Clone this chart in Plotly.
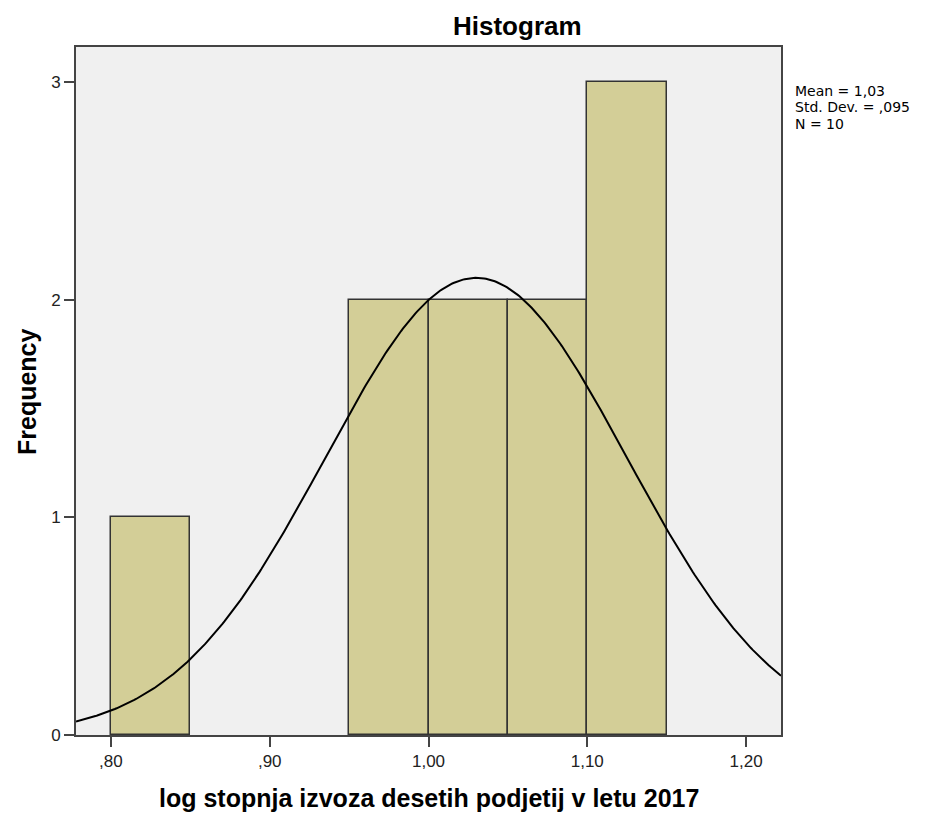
import numpy as np
import plotly.graph_objects as go

# ---- data ----
bin_starts = [0.80, 0.95, 1.00, 1.05, 1.10]
bin_counts = [1, 2, 2, 2, 3]
bin_width = 0.05
stat_mean = 1.03
stat_sd = 0.095
stat_n = 10
x_tickvals = [0.80, 0.90, 1.00, 1.10, 1.20]
x_ticktext = [",80", ",90", "1,00", "1,10", "1,20"]
y_tickvals = [0, 1, 2, 3]
stats_lines = ["Mean = 1,03", "Std. Dev. = ,095", "N = 10"]

W, H = 927, 814
L, R, T, B = 76, 146, 47, 79
PW, PH = W - L - R, H - T - B
xr = [0.778, 1.222]
yr = [0, 3.16]
FONT = "Liberation Sans, Arial, sans-serif"

def py(ypx):
    return 1 - (ypx - T) / PH

def px(xpx):
    return (xpx - L) / PW

fig = go.Figure()
fig.add_trace(go.Bar(
    x=[s + bin_width / 2 for s in bin_starts], y=bin_counts, width=bin_width,
    marker=dict(color="#D3CE97", line=dict(color="#333333", width=1.5)),
    hoverinfo="skip", showlegend=False))

xs = np.linspace(xr[0], xr[1], 400)
ys = stat_n * bin_width / (stat_sd * np.sqrt(2 * np.pi)) * np.exp(-0.5 * ((xs - stat_mean) / stat_sd) ** 2)
fig.add_trace(go.Scatter(x=xs, y=ys, mode="lines", line=dict(color="black", width=2),
                         hoverinfo="skip", showlegend=False))

annotations = [
    dict(text="<b>Histogram</b>", xref="paper", yref="paper", x=px(517), y=py(25.5),
         xanchor="center", yanchor="middle", showarrow=False, font=dict(size=26, color="black", family=FONT)),
    dict(text="<b>log stopnja izvoza desetih podjetij v letu 2017</b>", xref="paper", yref="paper",
         x=px(429), y=py(798), xanchor="center", yanchor="middle", showarrow=False,
         font=dict(size=25, color="black", family=FONT)),
    dict(text="<b>Frequency</b>", xref="paper", yref="paper", x=px(27), y=py(392), textangle=-90,
         xanchor="center", yanchor="middle", showarrow=False, font=dict(size=25, color="black", family=FONT)),
]
for i, s in enumerate(stats_lines):
    annotations.append(dict(text=s, xref="paper", yref="paper", x=px(793), y=py(90.5 + 16.5 * i),
                            xanchor="left", yanchor="middle", showarrow=False,
                            font=dict(size=14, color="black", family="DejaVu Sans, sans-serif")))

fig.update_layout(
    width=W, height=H, margin=dict(l=L, r=R, t=T, b=B, pad=0),
    paper_bgcolor="white", plot_bgcolor="#F0F0F0",
    bargap=0, annotations=annotations,
    font=dict(family=FONT, color="black"),
    xaxis=dict(range=xr, tickvals=x_tickvals, ticktext=x_ticktext, ticks="outside", ticklen=10,
               tickwidth=2, tickcolor="#444444", showgrid=False, zeroline=False, showline=True,
               linecolor="#444444", linewidth=2, mirror=True, tickfont=dict(size=17, color="#222222")),
    yaxis=dict(range=yr, tickvals=y_tickvals, ticks="outside", ticklen=10, tickwidth=2,
               tickcolor="#444444", showgrid=False, zeroline=False, showline=True,
               linecolor="#444444", linewidth=2, mirror=True, tickfont=dict(size=17, color="#222222")),
)
fig.write_html("out.html", config={"displayModeBar": False},
               post_script="document.body.style.margin='0px';")
